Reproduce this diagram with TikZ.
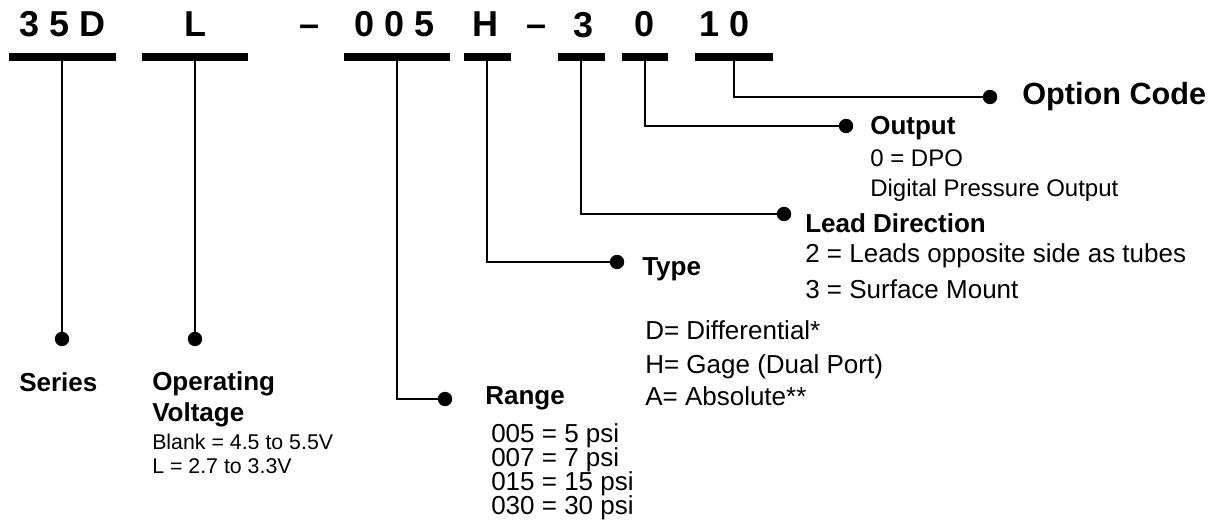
\documentclass[tikz,border=0pt]{standalone}
\usepackage{fontspec}
\setmainfont{Liberation Sans}
\newcommand\codefont{\bfseries\fontsize{27}{32}\selectfont}
\newcommand\optfont{\bfseries\fontsize{23}{28}\selectfont}
\newcommand\hdfont{\bfseries\fontsize{19.5}{24}\selectfont}
\newcommand\descfont{\fontsize{19.5}{24}\selectfont}
\newcommand\outfont{\fontsize{18}{22}\selectfont}
\newcommand\voltfont{\fontsize{16}{20}\selectfont}

\begin{document}
\begin{tikzpicture}[
        x=0.75pt,
        y=-0.75pt,
        code/.style={font=\codefont, anchor=base, inner sep=0pt},
        bar/.style={fill=black, inner sep=0pt, minimum height=5.4pt},
        dot/.style={circle, fill=black, inner sep=0pt, minimum size=10.8pt},
        wire/.style={draw=black, line width=1.9pt},
        head/.style={font=\hdfont, anchor=base west, inner sep=0pt},
        desc/.style={font=\descfont, anchor=base west, inner sep=0pt}]
\useasboundingbox (0,0) rectangle (1221,530);
% part number
\node[code] (c-series) at (62.5,37) {3 5 D};
\node[code] (c-volt) at (195,37) {L};
\node[code] (c-dash1) at (310,37) {–};
\node[code] (c-range) at (395,37) {0 0 5};
\node[code] (c-type) at (485.5,37) {H};
\node[code] (c-dash2) at (536.5,37) {–};
\node[code] (c-lead) at (583.5,38) {3};
\node[code] (c-output) at (645,37) {0};
\node[code] (c-option) at (724.5,37) {1 0};
% bars
\node[bar, minimum width=80.25pt] (bar-series) at (62,57) {};
\node[bar, minimum width=79.5pt] (bar-volt) at (195,57) {};
\node[bar, minimum width=79.5pt] (bar-range) at (397,57) {};
\node[bar, minimum width=35.25pt] (bar-type) at (487,57) {};
\node[bar, minimum width=35.25pt] (bar-lead) at (581,57) {};
\node[bar, minimum width=34.5pt] (bar-output) at (645,57) {};
\node[bar, minimum width=58.5pt] (bar-option) at (734,57) {};
% dots
\node[dot] (dot-series) at (62,339) {};
\node[dot] (dot-volt) at (195,339) {};
\node[dot] (dot-range) at (445,399) {};
\node[dot] (dot-type) at (617,262) {};
\node[dot] (dot-lead) at (784,214) {};
\node[dot] (dot-output) at (846,126) {};
\node[dot] (dot-option) at (990,97) {};
% leads
\draw[wire] (bar-series) -- (dot-series);
\draw[wire] (bar-volt) -- (dot-volt);
\draw[wire] (bar-range) |- (dot-range);
\draw[wire] (bar-type) |- (dot-type);
\draw[wire] (bar-lead) |- (dot-lead);
\draw[wire] (bar-output) |- (dot-output);
\draw[wire] (bar-option) |- (dot-option);
% labels
\node[head] (lbl-series) at (19,392) {Series};
\node[head] (lbl-volt) at (152,391) {Operating};
\node[head] (lbl-volt2) at (152,422) {Voltage};
\node[desc, font=\voltfont] (volt-1) at (152,450) {Blank = 4.5 to 5.5V};
\node[desc, font=\voltfont] (volt-2) at (152,474) {L = 2.7 to 3.3V};
\node[head] (lbl-range) at (485,405) {Range};
\foreach \txt [count=\i] in {005 = 5 psi, 007 = 7 psi, 015 = 15 psi, 030 = 30 psi}
    \node[desc] (range-\i) at (491,419.3+23.7*\i) {\txt};
\node[head] (lbl-type) at (642,276) {Type};
\node[desc] (type-1) at (645,340) {D= Differential*};
\node[desc] (type-2) at (645,374) {H= Gage (Dual Port)};
\node[desc] (type-3) at (645,406) {A= Absolute**};
\node[head] (lbl-lead) at (805,233) {Lead Direction};
\node[desc] (lead-1) at (805,263) {2 = Leads opposite side as tubes};
\node[desc] (lead-2) at (805,299) {3 = Surface Mount};
\node[head] (lbl-output) at (870,135) {Output};
\node[desc, font=\outfont] (output-1) at (870,167) {0 = DPO};
\node[desc, font=\outfont] (output-2) at (870,197) {Digital Pressure Output};
\node[head, font=\optfont] (lbl-option) at (1022,105) {Option Code};
\end{tikzpicture}
\end{document}
